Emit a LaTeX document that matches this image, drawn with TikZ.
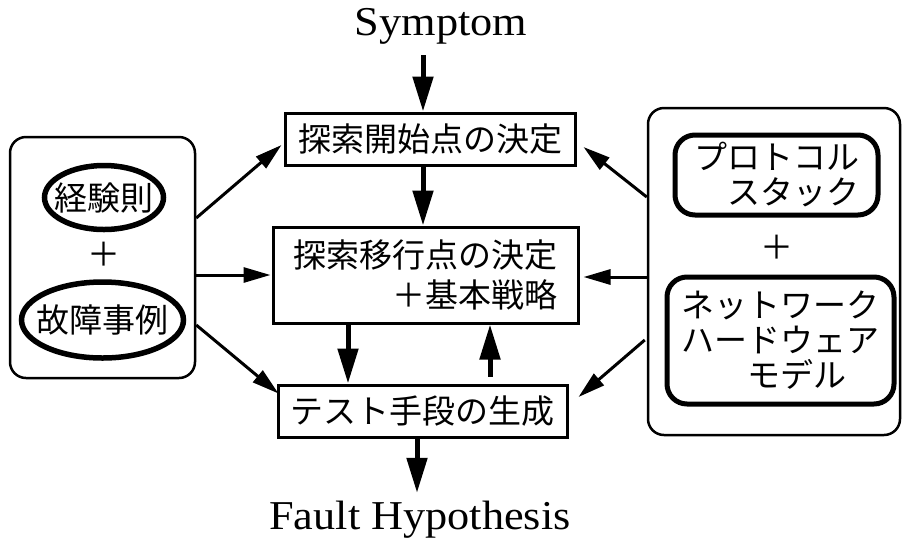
\documentclass[tikz,border=0pt]{standalone}
\usepackage{fontspec}
\setmainfont{Liberation Serif}[FakeStretch=1.08]
\newfontfamily\jpfont{Noto Sans CJK JP}
\usetikzlibrary{arrows.meta,shapes.geometric,calc}

\begin{document}
\begin{tikzpicture}[x=1pt,y=-1pt,
  jp/.style={font=\jpfont\fontsize{33}{35}\selectfont},
  en/.style={font=\fontsize{41}{48}\selectfont, inner sep=0pt},
  procbox/.style={draw, line width=3pt, rectangle, inner sep=0pt, jp},
  groupbox/.style={draw, line width=2.5pt, rounded corners=16pt, rectangle, inner sep=0pt},
  knowbox/.style={draw, line width=5pt, rounded corners=20pt, rectangle, inner sep=0pt, jp, align=left},
  knowoval/.style={draw, line width=5.5pt, ellipse, inner xsep=-12pt, inner ysep=0pt, jp},
  bigarrow/.style={line width=5pt, -{Triangle[length=35pt,width=20pt]}},
  thinarrow/.style={line width=3pt, -{Triangle[length=27pt,width=15pt]}},
]
\useasboundingbox (0,0) rectangle (902,542);
\fill[white] (0,0) rectangle (902,542);

% outer group frames
\node[groupbox, minimum width=185pt, minimum height=241pt] (L) at (102.5,257.5) {};
\node[groupbox, minimum width=252pt, minimum height=327pt] (R) at (774,271.5) {};

% knowledge sources, left
\node[knowoval, minimum width=119pt, minimum height=64pt] (rule) at (104,197.5) {経験則};
\node[jp] (lplus) at (104,254) {＋};
\node[knowoval, minimum width=162pt, minimum height=76pt] (case) at (102.5,320) {故障事例};

% models, right
\node[knowbox, minimum width=203pt, minimum height=80pt] (proto) at (776.5,175) {プロトコル\\　スタック};
\node[jp] (rplus) at (777,247) {＋};
\node[knowbox, minimum width=227pt, minimum height=127pt] (hw) at (780.5,340.5) {ネットワーク\\ハードウェア\\　　モデル};

% main process steps
\node[procbox, minimum width=290pt, minimum height=52pt] (A) at (430,139) {探索開始点の決定};
\node[procbox, minimum width=305pt, minimum height=96pt, align=right,
      font=\jpfont\fontsize{33}{40}\selectfont] (B) at (425.5,275) {\raisebox{-4pt}{探索移行点の決定}\hspace{8pt}\\\raisebox{-4pt}{＋基本戦略}};
\node[procbox, minimum width=289pt, minimum height=52pt] (C) at (422.5,411) {テスト手段の生成};

% input and output
\node[en, anchor=base] (sym) at (441,35) {Symptom};
\node[en, anchor=base] (fh) at (420,529) {Fault Hypothesis};

% main flow
\draw[bigarrow] ($(sym.south)+(-18,11)$) -- ($(A.north)+(-7,0)$);
\draw[bigarrow] ($(A.south)+(-7,0)$) -- ($(B.north)+(-2.5,0)$);
\draw[bigarrow] ($(B.south)+(-77.5,0)$) -- ($(C.north)+(-74.5,0)$);
\draw[bigarrow] ($(C.north)+(67.5,-7)$) -- ($(B.south)+(64.5,0)$);
\draw[bigarrow] ($(C.south)+(-5.5,0)$) -- ($(fh.north)+(-3,-7.5)$);

% knowledge feeding the steps
\draw[thinarrow] ($(L.east)+(0,-39.5)$) -- ($(A.west)+(-2,6)$);
\draw[thinarrow] ($(L.east)+(0,17.5)$) -- ($(B.west)+(-1,0)$);
\draw[thinarrow] ($(L.east)+(0,67.5)$) -- ($(C.north west)+(2,10)$);
\draw[thinarrow] ($(R.west)+(0,-74.5)$) -- ($(A.east)+(7,8)$);
\draw[thinarrow] ($(R.west)+(0,5.5)$) -- ($(B.east)+(4,2)$);
\draw[thinarrow] ($(R.west)+(-2,68.5)$) -- ($(C.east)+(10,-14)$);
\end{tikzpicture}
\end{document}
